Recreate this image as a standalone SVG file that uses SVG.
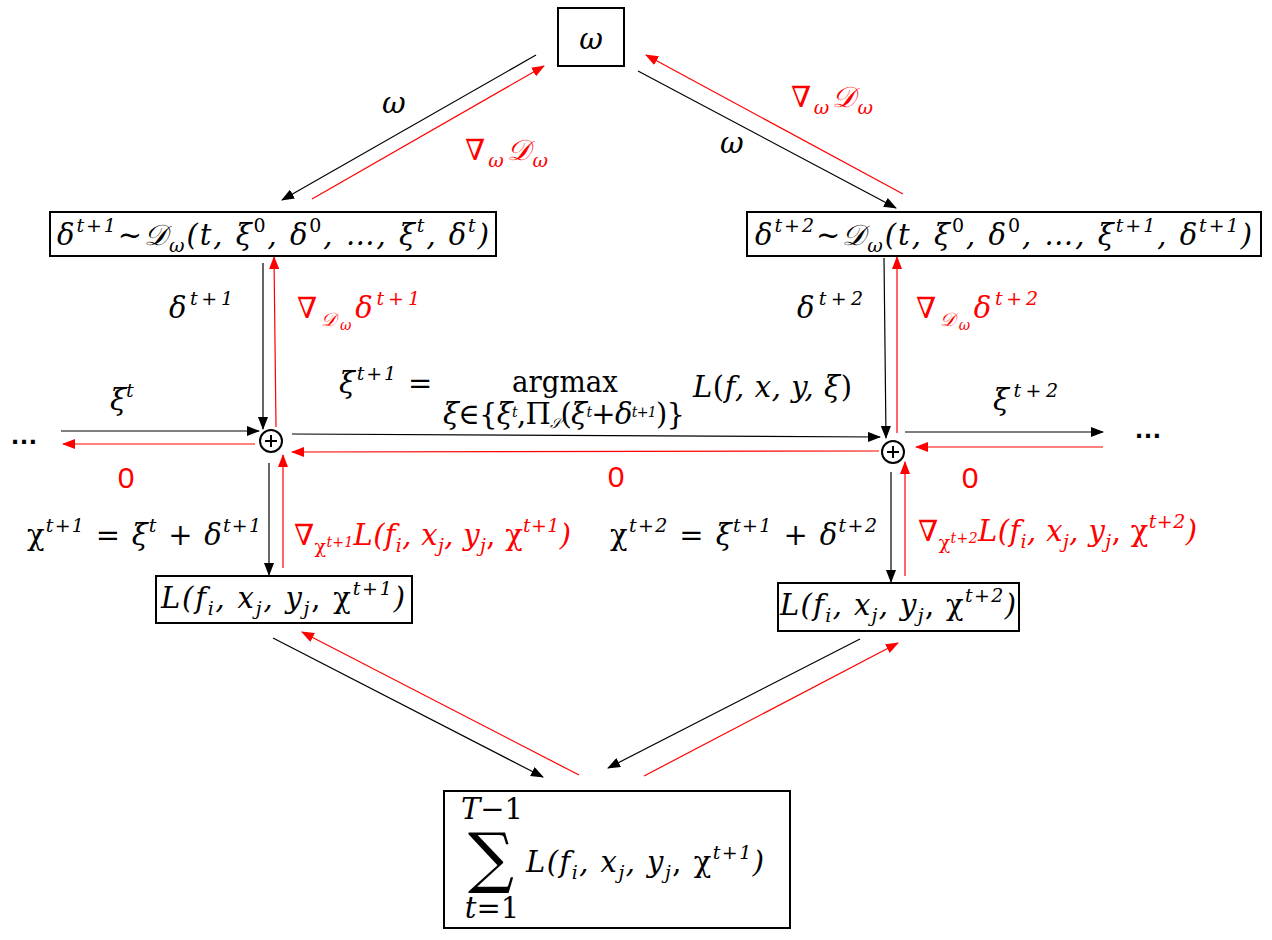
<svg xmlns="http://www.w3.org/2000/svg" width="1272" height="940" viewBox="0 0 1272 940">
<defs>
<marker id="ab" markerUnits="userSpaceOnUse" markerWidth="13" markerHeight="10" refX="12" refY="5" orient="auto"><path d="M0,0 L13,5 L0,10 z" fill="#000"/></marker>
<marker id="ar" markerUnits="userSpaceOnUse" markerWidth="13" markerHeight="10" refX="12" refY="5" orient="auto"><path d="M0,0 L13,5 L0,10 z" fill="#f00"/></marker>
<style>
.bx{fill:#fff;stroke:#000;stroke-width:2}
.k{stroke:#000;stroke-width:1.2;fill:none;marker-end:url(#ab)}
.r{stroke:#f00;stroke-width:1.2;fill:none;marker-end:url(#ar)}
.m{font-family:"DejaVu Serif","Liberation Serif",serif;font-style:italic;font-size:29px;fill:#000}
.red{fill:#f00}
.s{font-size:19px}
.ss{font-size:14px}
.up{font-style:normal}
.z{font-family:"Liberation Sans",Arial,sans-serif;font-size:30px;fill:#f00}
.dots{font-family:"Liberation Sans",Arial,sans-serif;font-size:28px;font-weight:bold;fill:#000}
.sum{font-family:"DejaVu Serif",serif;font-size:66px;fill:#000}
</style>
</defs>
<rect width="1272" height="940" fill="#fff"/>

<g id="connectors">
<line class="k" x1="536" y1="55" x2="282" y2="200"/>
<line class="r" x1="312" y1="199" x2="544" y2="66"/>
<line class="k" x1="638" y1="71" x2="896" y2="208"/>
<line class="r" x1="903" y1="194" x2="646" y2="55"/>
<line class="k" x1="263" y1="263" x2="263" y2="429"/>
<line class="r" x1="276" y1="427" x2="274" y2="257"/>
<line class="k" x1="884" y1="258" x2="886" y2="438"/>
<line class="r" x1="897" y1="433" x2="897" y2="257"/>
<line class="k" x1="61" y1="431" x2="259" y2="431"/>
<line class="r" x1="255" y1="444" x2="63" y2="444"/>
<line class="k" x1="292" y1="434" x2="880" y2="437"/>
<line class="r" x1="879" y1="451" x2="292" y2="452"/>
<line class="k" x1="905" y1="432" x2="1103" y2="432"/>
<line class="r" x1="1103" y1="447" x2="916" y2="447"/>
<line class="k" x1="269" y1="463" x2="269" y2="575"/>
<line class="r" x1="283" y1="568" x2="283" y2="455"/>
<line class="k" x1="891" y1="472" x2="891" y2="582"/>
<line class="r" x1="905" y1="576" x2="905" y2="462"/>
<line class="k" x1="273" y1="638" x2="543" y2="777"/>
<line class="r" x1="579" y1="775" x2="302" y2="632"/>
<line class="k" x1="860" y1="639" x2="608" y2="768"/>
<line class="r" x1="644" y1="776" x2="898" y2="643"/>
</g>

<g id="n-omega">
<rect class="bx" x="558" y="8" width="66" height="58"/>
<text class="m" x="591" y="49" text-anchor="middle" font-size="32">ω</text>
</g>

<g id="n-dist1">
<rect class="bx" x="50" y="212" width="446" height="44"/>
<text class="m" x="57" y="245" textLength="432" lengthAdjust="spacing">δ<tspan class="s" dy="-13">t+1</tspan><tspan dy="13">~𝒟</tspan><tspan class="s" dy="7">ω</tspan><tspan dy="-7">(t, ξ</tspan><tspan class="s up" dy="-13">0</tspan><tspan dy="13">, δ</tspan><tspan class="s up" dy="-13">0</tspan><tspan dy="13">, …, ξ</tspan><tspan class="s" dy="-13">t</tspan><tspan dy="13">, δ</tspan><tspan class="s" dy="-13">t</tspan><tspan dy="13">)</tspan></text>
</g>

<g id="n-dist2">
<rect class="bx" x="747" y="212" width="514" height="44"/>
<text class="m" x="755" y="245" textLength="497" lengthAdjust="spacing">δ<tspan class="s" dy="-13">t+2</tspan><tspan dy="13">~𝒟</tspan><tspan class="s" dy="7">ω</tspan><tspan dy="-7">(t, ξ</tspan><tspan class="s up" dy="-13">0</tspan><tspan dy="13">, δ</tspan><tspan class="s up" dy="-13">0</tspan><tspan dy="13">, …, ξ</tspan><tspan class="s" dy="-13">t+1</tspan><tspan dy="13">, δ</tspan><tspan class="s" dy="-13">t+1</tspan><tspan dy="13">)</tspan></text>
</g>

<g id="n-plus1">
<circle cx="271" cy="441" r="11" fill="#fff" stroke="#000" stroke-width="2"/>
<path d="M265,441 H277 M271,435 V447" stroke="#000" stroke-width="2"/>
</g>

<g id="n-plus2">
<circle cx="893" cy="452" r="11" fill="#fff" stroke="#000" stroke-width="2"/>
<path d="M887,452 H899 M893,446 V458" stroke="#000" stroke-width="2"/>
</g>

<g id="n-loss1">
<rect class="bx" x="156" y="576" width="256" height="47"/>
<text class="m" x="161" y="608" textLength="244" lengthAdjust="spacing">L(f<tspan class="s" dy="7">i</tspan><tspan dy="-7">, x</tspan><tspan class="s" dy="7">j</tspan><tspan dy="-7">, y</tspan><tspan class="s" dy="7">j</tspan><tspan dy="-7" class="up">, χ</tspan><tspan class="s" dy="-13">t+1</tspan><tspan dy="13">)</tspan></text>
</g>

<g id="n-loss2">
<rect class="bx" x="778" y="583" width="241" height="48"/>
<text class="m" x="780" y="615" textLength="236" lengthAdjust="spacing">L(f<tspan class="s" dy="7">i</tspan><tspan dy="-7">, x</tspan><tspan class="s" dy="7">j</tspan><tspan dy="-7">, y</tspan><tspan class="s" dy="7">j</tspan><tspan dy="-7" class="up">, χ</tspan><tspan class="s" dy="-13">t+2</tspan><tspan dy="13">)</tspan></text>
</g>

<g id="n-sum">
<rect class="bx" x="444" y="791" width="346" height="137"/>
<text class="m" x="492" y="819" text-anchor="middle" font-size="20">T<tspan class="up">−1</tspan></text>
<text class="sum" x="468" y="880" textLength="46" lengthAdjust="spacingAndGlyphs">∑</text>
<text class="m" x="492" y="918" text-anchor="middle" font-size="20">t<tspan class="up">=1</tspan></text>
<text class="m" x="526" y="872" textLength="238" lengthAdjust="spacing">L(f<tspan class="s" dy="7">i</tspan><tspan dy="-7">, x</tspan><tspan class="s" dy="7">j</tspan><tspan dy="-7">, y</tspan><tspan class="s" dy="7">j</tspan><tspan dy="-7" class="up">, χ</tspan><tspan class="s" dy="-13">t+1</tspan><tspan dy="13">)</tspan></text>
</g>

<g id="labels">
<text class="m" x="382" y="113" font-size="28">ω</text>
<text class="m" x="720" y="153" font-size="28">ω</text>
<text class="m red" x="465" y="160" textLength="83" lengthAdjust="spacing">∇<tspan class="s" dy="7">ω</tspan><tspan dy="-7">𝒟</tspan><tspan class="s" dy="7">ω</tspan></text>
<text class="m red" x="791" y="107" textLength="82" lengthAdjust="spacing">∇<tspan class="s" dy="7">ω</tspan><tspan dy="-7">𝒟</tspan><tspan class="s" dy="7">ω</tspan></text>

<text class="m" x="169" y="318" textLength="64" lengthAdjust="spacing">δ<tspan class="s" dy="-13">t+1</tspan></text>
<text class="m red" x="297" y="318" textLength="123" lengthAdjust="spacing">∇<tspan class="s" dy="8">𝒟</tspan><tspan class="ss" dy="4">ω</tspan><tspan dy="-12">δ</tspan><tspan class="s" dy="-13">t+1</tspan></text>
<text class="m" x="797" y="318" textLength="66" lengthAdjust="spacing">δ<tspan class="s" dy="-13">t+2</tspan></text>
<text class="m red" x="916" y="318" textLength="122" lengthAdjust="spacing">∇<tspan class="s" dy="8">𝒟</tspan><tspan class="ss" dy="4">ω</tspan><tspan dy="-12">δ</tspan><tspan class="s" dy="-13">t+2</tspan></text>

<text class="m" x="110" y="410">ξ<tspan class="s" dy="-13">t</tspan></text>
<text class="m" x="993" y="410" textLength="65" lengthAdjust="spacing">ξ<tspan class="s" dy="-13">t+2</tspan></text>
<text class="dots" x="10" y="444">…</text>
<text class="dots" x="1134" y="438">…</text>

<text class="m" x="339" y="393" textLength="57" lengthAdjust="spacing">ξ<tspan class="s" dy="-13">t+1</tspan></text>
<text class="m up" x="408" y="393">=</text>
<text class="m up" x="512" y="392" textLength="106" lengthAdjust="spacingAndGlyphs">argmax</text>
<text class="m" x="443" y="424" font-size="20" textLength="242" lengthAdjust="spacing">ξ<tspan class="up">∈{</tspan>ξ<tspan class="ss" dy="-7">t</tspan><tspan dy="7" class="up">,Π</tspan><tspan class="ss" dy="4">𝒮</tspan><tspan dy="-4" class="up">(</tspan>ξ<tspan class="ss" dy="-7">t</tspan><tspan dy="7" class="up">+</tspan>δ<tspan class="ss" dy="-7">t+1</tspan><tspan dy="7" class="up">)}</tspan></text>
<text class="m" x="693" y="397" textLength="159" lengthAdjust="spacing">L<tspan class="up">(</tspan>f, x, y, ξ<tspan class="up">)</tspan></text>

<text class="z" x="126" y="488" text-anchor="middle">0</text>
<text class="z" x="616" y="487" text-anchor="middle">0</text>
<text class="z" x="970" y="488" text-anchor="middle">0</text>

<text class="m" x="27" y="545" textLength="234" lengthAdjust="spacing"><tspan class="up">χ</tspan><tspan class="s" dy="-13">t+1</tspan><tspan dy="13" class="up"> = </tspan>ξ<tspan class="s" dy="-13">t</tspan><tspan dy="13" class="up">  + </tspan>δ<tspan class="s" dy="-13">t+1</tspan></text>
<text class="m red" x="294" y="545" textLength="277" lengthAdjust="spacing">∇<tspan class="s up" dy="8">χ</tspan><tspan class="ss" dy="-6">t+1</tspan><tspan dy="-2">L(f</tspan><tspan class="s" dy="7">i</tspan><tspan dy="-7">, x</tspan><tspan class="s" dy="7">j</tspan><tspan dy="-7">, y</tspan><tspan class="s" dy="7">j</tspan><tspan dy="-7" class="up">, χ</tspan><tspan class="s" dy="-13">t+1</tspan><tspan dy="13">)</tspan></text>
<text class="m" x="610" y="545" textLength="267" lengthAdjust="spacing"><tspan class="up">χ</tspan><tspan class="s" dy="-13">t+2</tspan><tspan dy="13" class="up"> = </tspan>ξ<tspan class="s" dy="-13">t+1</tspan><tspan dy="13" class="up">  + </tspan>δ<tspan class="s" dy="-13">t+2</tspan></text>
<text class="m red" x="918" y="541" textLength="279" lengthAdjust="spacing">∇<tspan class="s up" dy="8">χ</tspan><tspan class="ss" dy="-6">t+2</tspan><tspan dy="-2">L(f</tspan><tspan class="s" dy="7">i</tspan><tspan dy="-7">, x</tspan><tspan class="s" dy="7">j</tspan><tspan dy="-7">, y</tspan><tspan class="s" dy="7">j</tspan><tspan dy="-7" class="up">, χ</tspan><tspan class="s" dy="-13">t+2</tspan><tspan dy="13">)</tspan></text>
</g>
</svg>
